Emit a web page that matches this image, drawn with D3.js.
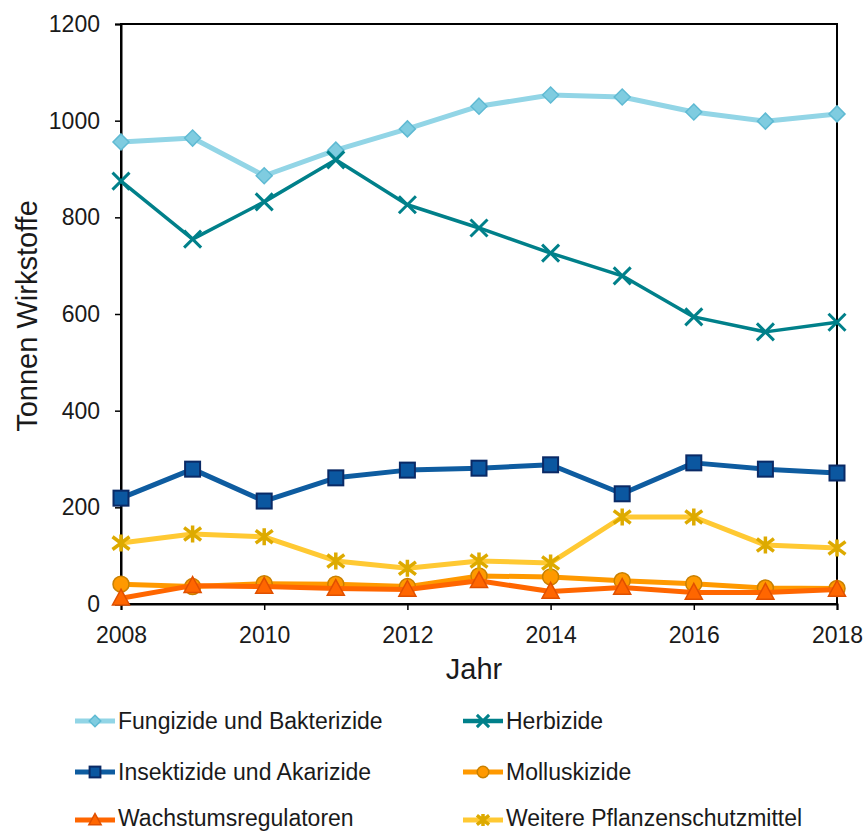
<!DOCTYPE html>
<html><head><meta charset="utf-8">
<script src="https://cdn.jsdelivr.net/npm/d3@7"></script>
<style>body{margin:0;background:#fff}svg{display:block}text{font-family:"Liberation Sans",Arial,sans-serif;fill:#1a1a1a}</style>
</head><body><svg id="c" width="868" height="832"></svg>
<script>
const years = [2008,2009,2010,2011,2012,2013,2014,2015,2016,2017,2018];
const fungizide = [956,964,886,939,983,1030,1053,1049,1018,999,1014];
const herbizide = [875,755,832,919,826,778,726,679,594,563,583];
const insektizide = [219,279,213,261,277,281,288,228,292,279,271];
const molluskizide = [41,36,42,41,36,58,56,48,42,33,32];
const wachstum = [12,38,36,32,30,48,26,34,24,24,30];
const weitere = [126,145,139,89,74,89,85,180,180,122,116];
const yTicks = [0,200,400,600,800,1000,1200];
const xTicks = [2008,2010,2012,2014,2016,2018];

const series = [
  {name:"Fungizide und Bakterizide", values:fungizide, line:"#92D5E6", fill:"#7FCCE0", stroke:"#5FBAD3", marker:"diamond", w:5},
  {name:"Herbizide", values:herbizide, line:"#00808A", fill:"none", stroke:"#00808A", marker:"x", w:3.5},
  {name:"Insektizide und Akarizide", values:insektizide, line:"#0E5CA0", fill:"#0B57A0", stroke:"#0A2A66", marker:"square", w:5},
  {name:"Molluskizide", values:molluskizide, line:"#FF9900", fill:"#FF9900", stroke:"#C98000", marker:"circle", w:5},
  {name:"Wachstumsregulatoren", values:wachstum, line:"#FF6600", fill:"#FF6600", stroke:"#E05000", marker:"triangle", w:5},
  {name:"Weitere Pflanzenschutzmittel", values:weitere, line:"#FFC933", fill:"none", stroke:"#DDAA00", marker:"star", w:5}
];

const svg = d3.select("#c");
const L=121, R=837, T=24, B=604;
const x = d3.scaleLinear().domain([2008,2018]).range([L,R]);
const y = d3.scaleLinear().domain([0,1200]).range([B,T]);

// frame
svg.append("rect").attr("x",L).attr("y",T).attr("width",R-L).attr("height",B-T)
  .attr("fill","none").attr("stroke","#000").attr("stroke-width",2);

const ya = svg.append("g").attr("transform",`translate(${L},0)`)
  .call(d3.axisLeft(y).tickValues(yTicks).tickSize(6).tickPadding(15).tickFormat(d3.format("d")));
const xa = svg.append("g").attr("transform",`translate(0,${B})`)
  .call(d3.axisBottom(x).tickValues(xTicks).tickSize(6).tickPadding(17).tickFormat(d3.format("d")));
[ya,xa].forEach(a=>{
  a.select(".domain").attr("stroke","#000").attr("stroke-width",2);
  a.selectAll(".tick line").attr("stroke","#000").attr("stroke-width",1.5);
  a.selectAll(".tick text").style("font-size","23px").attr("fill","#1a1a1a");
});

svg.append("text").attr("transform","translate(37,316) rotate(-90)").attr("text-anchor","middle")
  .style("font-size","29px").text("Tonnen Wirkstoffe");
svg.append("text").attr("x",474).attr("y",679).attr("text-anchor","middle")
  .style("font-size","29px").text("Jahr");

function drawMarker(g, s, cx, cy, scale){
  const k = scale||1;
  if(s.marker==="diamond"){
    const r=8*k;
    g.append("path").attr("d",`M${cx},${cy-r}L${cx+r},${cy}L${cx},${cy+r}L${cx-r},${cy}Z`)
      .attr("fill",s.fill).attr("stroke",s.stroke).attr("stroke-width",1.5);
  } else if(s.marker==="square"){
    const r=7.5*k;
    g.append("rect").attr("x",cx-r).attr("y",cy-r).attr("width",2*r).attr("height",2*r)
      .attr("fill",s.fill).attr("stroke",s.stroke).attr("stroke-width",2);
  } else if(s.marker==="circle"){
    g.append("circle").attr("cx",cx).attr("cy",cy).attr("r",8*k)
      .attr("fill",s.fill).attr("stroke",s.stroke).attr("stroke-width",1.5);
  } else if(s.marker==="triangle"){
    const r=9*k;
    g.append("path").attr("d",`M${cx},${cy-r}L${cx+r*0.95},${cy+r*0.75}L${cx-r*0.95},${cy+r*0.75}Z`)
      .attr("fill",s.fill).attr("stroke",s.stroke).attr("stroke-width",1.5);
  } else if(s.marker==="x"){
    const r=8.5*k;
    g.append("path").attr("d",`M${cx-r},${cy-r}L${cx+r},${cy+r}M${cx-r},${cy+r}L${cx+r},${cy-r}`)
      .attr("stroke",s.stroke).attr("stroke-width",3).attr("fill","none");
  } else if(s.marker==="star"){
    const r=8.5*k;
    g.append("path").attr("d",`M${cx-r},${cy-r*0.75}L${cx+r},${cy+r*0.75}M${cx-r},${cy+r*0.75}L${cx+r},${cy-r*0.75}M${cx},${cy-r}L${cx},${cy+r}`)
      .attr("stroke",s.stroke).attr("stroke-width",3.5).attr("fill","none");
  }
}

const line = d3.line().x((d,i)=>x(years[i])).y(d=>y(d));
series.forEach(s=>{
  const g = svg.append("g");
  g.append("path").datum(s.values).attr("d",line).attr("fill","none")
    .attr("stroke",s.line).attr("stroke-width",s.w).attr("stroke-linejoin","round");
  s.values.forEach((v,i)=>drawMarker(g,s,x(years[i]),y(v),1));
});

// legend
const legPos = [[75,721],[463,721],[75,772],[463,772],[75,820],[463,820]];
series.forEach((s,i)=>{
  const [lx,ly]=legPos[i];
  const g = svg.append("g");
  g.append("line").attr("x1",lx).attr("x2",lx+40).attr("y1",ly).attr("y2",ly)
    .attr("stroke",s.line).attr("stroke-width",Math.max(s.w,4.5));
  drawMarker(g,s,lx+20,ly,0.72);
  g.append("text").attr("x",lx+43).attr("y",ly+ (i>=4?6:8)).style("font-size","23px").text(s.name);
});
</script></body></html>
